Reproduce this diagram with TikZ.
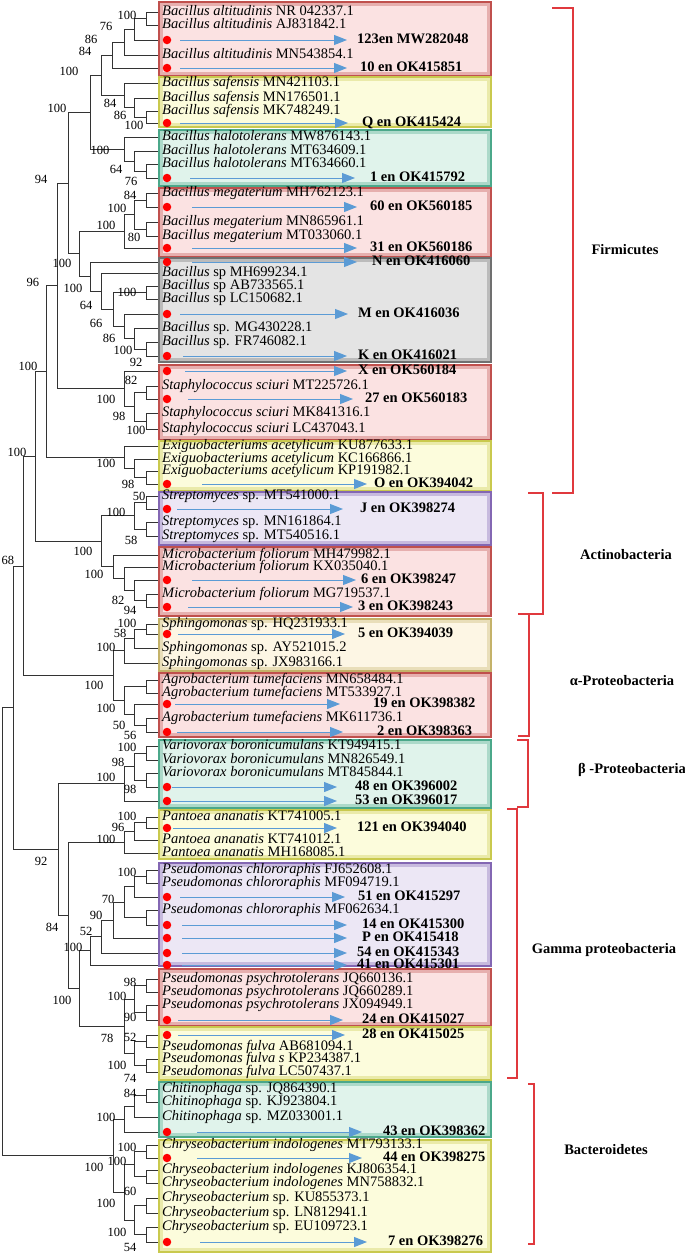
\documentclass[tikz,border=0pt]{standalone}
\usepackage{fontspec}
\setmainfont{Liberation Serif}
\usetikzlibrary{arrows.meta}

\definecolor{pinkfill}{HTML}{FBE2E2}
\definecolor{pinkline}{HTML}{C0504D}
\definecolor{yellowfill}{HTML}{FCFCDC}
\definecolor{yellowline}{HTML}{C9C94E}
\definecolor{greenfill}{HTML}{E0F3EB}
\definecolor{greenline}{HTML}{4BA88A}
\definecolor{greyfill}{HTML}{E4E4E4}
\definecolor{greyline}{HTML}{707070}
\definecolor{lilacfill}{HTML}{ECE7F5}
\definecolor{lilacline}{HTML}{8367B3}
\definecolor{creamfill}{HTML}{FDF6E4}
\definecolor{creamline}{HTML}{C4B269}
\definecolor{arrowblue}{HTML}{5B9BD5}
\definecolor{bracketred}{HTML}{E0393E}

\tikzstyle{branch}=[line width=1pt, draw=black!80]
\tikzstyle{cladebox}=[line width=1.3pt]
\tikzstyle{taxon}=[anchor=west, inner xsep=4pt, inner ysep=0pt, text height=10pt, text depth=3pt, font=\fontsize{14.5pt}{15pt}\selectfont]
\tikzstyle{isodot}=[circle, fill=red, inner sep=0pt, outer sep=0pt, minimum size=8.5pt]
\tikzstyle{isolabel}=[anchor=west, inner sep=0pt, outer sep=0pt, text height=10pt, text depth=3pt, font=\bfseries\fontsize{14.5pt}{15pt}\selectfont]
\tikzstyle{seqarrow}=[draw=arrowblue, line width=1pt, -{Triangle[length=13pt,width=10pt]}]
\tikzstyle{boot}=[inner sep=0pt, font=\fontsize{12.5pt}{13pt}\selectfont]
\tikzstyle{phylum}=[draw=bracketred, line width=1.2pt]
\tikzstyle{phylumname}=[font=\bfseries\fontsize{14.5pt}{15pt}\selectfont]

\begin{document}
\begin{tikzpicture}[x=1pt, y=-1pt]
\useasboundingbox (0,0) rectangle (685,1256);

% coloured boxes behind the leaves
\foreach \bya/\byb/\bfill/\bline in {2/76/pinkfill/pinkline, 77/127/yellowfill/yellowline, 130/186/greenfill/greenline,
  188/257/pinkfill/pinkline, 258/362/greyfill/greyline, 365/440/pinkfill/pinkline, 441/491/yellowfill/yellowline,
  492/545/lilacfill/lilacline, 547/616/pinkfill/pinkline, 619/671/creamfill/creamline, 673/737/pinkfill/pinkline,
  740/808/greenfill/greenline, 810/859/yellowfill/yellowline, 863/966/lilacfill/lilacline, 969/1026/pinkfill/pinkline,
  1027/1080/yellowfill/yellowline, 1082/1137/greenfill/greenline, 1140/1252/yellowfill/yellowline}
{
  \draw[cladebox, draw=\bline, fill=\bline!35!\bfill] (159,\bya) rectangle (491,\byb);
  \fill[\bfill] (163,{\bya+4}) rectangle (487,{\byb-4});
}

% leaf tips
\foreach \tn/\ty in {1/12, 2/25, 3/40, 4/55, 5/68, 6/83, 7/98, 8/111, 9/123, 10/137, 11/151, 12/164, 13/178,
  14/193, 15/207, 16/222, 17/236, 18/248, 19/262, 20/273, 21/286, 22/299, 23/314, 24/328, 25/342, 26/356,
  27/371, 28/386, 29/399, 30/413, 31/429, 32/446, 33/459, 34/471, 35/484, 36/496, 37/509, 38/522, 39/536,
  40/555, 41/567, 42/580, 43/594, 44/607, 45/624, 46/634, 47/648, 48/663, 49/680, 50/693, 51/704, 52/718,
  53/732, 54/746, 55/760, 56/773, 57/787, 58/801, 59/817, 60/828, 61/840, 62/853, 63/870, 64/883, 65/897,
  66/910, 67/925, 68/938, 69/953, 70/965, 71/979, 72/992, 73/1005, 74/1020, 75/1035, 76/1047, 77/1059,
  78/1072, 79/1089, 80/1102, 81/1117, 82/1132, 83/1145, 84/1158, 85/1170, 86/1183, 87/1198, 88/1213,
  89/1227, 90/1242}
  \coordinate (l\tn) at (158,\ty);

% inner nodes of the tree
\foreach \nn/\nx/\ny in {alt1/146/18.5, alt2/134/29.25, alt3/124/42.1, alt4/112/55.1,
  saf1/146/117, saf2/134/107.5, saf3/124/95.25, bac1/101/75.2,
  hal1/146/171, hal2/134/161, hal3/124/149, bac2/90/112.1,
  meg1/146/200, meg2/146/229, meg3/134/214.5, meg4/124/231.25,
  sp1/146/349, sp2/134/338.5, sp3/124/326.25, sp4/146/292.5, sp5/113/309.4, sp6/101/291.2, sp7/90/276.6,
  bac3/79/253.9, bac4/68/183,
  sta1/146/392.5, sta2/146/421, sta3/134/406.75, sta4/124/388.9, bac5/57/285.9,
  exi1/146/477.5, exi2/134/468.25, exi3/124/457.1, fir/46/371.5,
  str1/146/502.5, str2/146/529, str3/134/515.75,
  mic1/146/600.5, mic2/134/590.25, mic3/124/578.6, mic4/113/566.8,
  act/101/541.3, n1/35/456.4,
  sph1/146/629, sph2/134/638.5, sph3/124/650.75,
  agr1/146/686.5, agr2/146/725, agr3/134/714.5, agr4/124/700.5,
  alp/113/675.6, n2/23/566,
  var1/146/753, var2/146/780, var3/134/766.5, var4/124/783.75,
  pan1/146/822.5, pan2/134/831.25, pan3/124/842.1,
  chl1/146/876.5, chl2/134/886.75, chl3/146/917.5, chl4/124/902.1, chl5/113/920, chl6/101/936.5, chl7/90/950.75,
  psy1/146/985.5, psy2/146/1012.5, psy3/134/999,
  ful1/146/1041, ful2/146/1065.5, ful3/134/1053.25,
  psd1/124/1026.1, psd2/79/988.4, gam/68/915.25, n3/58/849.5, n4/13/707.75,
  chi1/146/1095.5, chi2/134/1106.25, chi3/124/1119.1,
  chr1/146/1151.5, chr2/146/1176.5, chr3/134/1164, chr4/146/1205.5, chr5/146/1234.5, chr6/134/1220, chr7/124/1192,
  bct/113/1155.5, root/2/931.6}
  \coordinate (\nn) at (\nx,\ny);

% branches
\foreach \pn/\cn in {alt1/l1, alt1/l2, alt2/alt1, alt2/l3, alt3/alt2, alt3/l4, alt4/alt3, alt4/l5,
  saf1/l8, saf1/l9, saf2/l7, saf2/saf1, saf3/l6, saf3/saf2, bac1/alt4, bac1/saf3,
  hal1/l12, hal1/l13, hal2/l11, hal2/hal1, hal3/l10, hal3/hal2, bac2/bac1, bac2/hal3,
  meg1/l14, meg1/l15, meg2/l16, meg2/l17, meg3/meg1, meg3/meg2, meg4/meg3, meg4/l18,
  sp1/l25, sp1/l26, sp2/l24, sp2/sp1, sp3/l23, sp3/sp2, sp4/l21, sp4/l22, sp5/sp4, sp5/sp3,
  sp6/l20, sp6/sp5, sp7/l19, sp7/sp6, bac3/meg4, bac3/sp7, bac4/bac2, bac4/bac3,
  sta1/l28, sta1/l29, sta2/l30, sta2/l31, sta3/sta1, sta3/sta2, sta4/l27, sta4/sta3, bac5/bac4, bac5/sta4,
  exi1/l34, exi1/l35, exi2/l33, exi2/exi1, exi3/l32, exi3/exi2, fir/bac5, fir/exi3,
  str1/l36, str1/l37, str2/l38, str2/l39, str3/str1, str3/str2,
  mic1/l43, mic1/l44, mic2/l42, mic2/mic1, mic3/l41, mic3/mic2, mic4/l40, mic4/mic3,
  act/str3, act/mic4, n1/fir, n1/act,
  sph1/l45, sph1/l46, sph2/sph1, sph2/l47, sph3/sph2, sph3/l48,
  agr1/l49, agr1/l50, agr2/l52, agr2/l53, agr3/l51, agr3/agr2, agr4/agr1, agr4/agr3,
  alp/sph3, alp/agr4, n2/n1, n2/alp,
  var1/l54, var1/l55, var2/l56, var2/l57, var3/var1, var3/var2, var4/var3, var4/l58,
  pan1/l59, pan1/l60, pan2/pan1, pan2/l61, pan3/pan2, pan3/l62,
  chl1/l63, chl1/l64, chl2/chl1, chl2/l65, chl3/l66, chl3/l67, chl4/chl2, chl4/chl3,
  chl5/chl4, chl5/l68, chl6/chl5, chl6/l69, chl7/chl6, chl7/l70,
  psy1/l71, psy1/l72, psy2/l73, psy2/l74, psy3/psy1, psy3/psy2,
  ful1/l75, ful1/l76, ful2/l77, ful2/l78, ful3/ful1, ful3/ful2,
  psd1/psy3, psd1/ful3, psd2/chl7, psd2/psd1, gam/pan3, gam/psd2, n3/var4, n3/gam, n4/n2, n4/n3,
  chi1/l79, chi1/l80, chi2/chi1, chi2/l81, chi3/chi2, chi3/l82,
  chr1/l83, chr1/l84, chr2/l85, chr2/l86, chr3/chr1, chr3/chr2, chr4/l87, chr4/l88,
  chr5/l89, chr5/l90, chr6/chr4, chr6/chr5, chr7/chr3, chr7/chr6,
  bct/chi3, bct/chr7, root/n4, root/bct}
  \draw[branch] (\pn) |- (\cn);

% reference sequences
\foreach \tn/\tg/\ta in {1/Bacillus altitudinis/NR 042337.1, 2/Bacillus altitudinis/AJ831842.1,
  4/Bacillus altitudinis/MN543854.1, 6/Bacillus safensis/MN421103.1, 7/Bacillus safensis/MN176501.1,
  8/Bacillus safensis/MK748249.1, 10/Bacillus halotolerans/MW876143.1, 11/Bacillus halotolerans/MT634609.1,
  12/Bacillus halotolerans/MT634660.1, 14/Bacillus megaterium/MH762123.1, 16/Bacillus megaterium/MN865961.1,
  17/Bacillus megaterium/MT033060.1, 20/Bacillus/sp MH699234.1, 21/Bacillus/sp AB733565.1,
  22/Bacillus/sp LC150682.1, 24/Bacillus/sp. MG430228.1, 25/Bacillus/sp. FR746082.1,
  28/Staphylococcus sciuri/MT225726.1, 30/Staphylococcus sciuri/MK841316.1, 31/Staphylococcus sciuri/LC437043.1,
  32/Exiguobacteriums acetylicum/KU877633.1, 33/Exiguobacteriums acetylicum/KC166866.1,
  34/Exiguobacteriums acetylicum/KP191982.1, 36/Streptomyces/sp. MT541000.1, 38/Streptomyces/sp. MN161864.1,
  39/Streptomyces/sp. MT540516.1, 40/Microbacterium foliorum/MH479982.1, 41/Microbacterium foliorum/KX035040.1,
  43/Microbacterium foliorum/MG719537.1, 45/Sphingomonas/sp. HQ231933.1, 47/Sphingomonas/sp. AY521015.2,
  48/Sphingomonas/sp. JX983166.1, 49/Agrobacterium tumefaciens/MN658484.1, 50/Agrobacterium tumefaciens/MT533927.1,
  52/Agrobacterium tumefaciens/MK611736.1, 54/Variovorax boronicumulans/KT949415.1,
  55/Variovorax boronicumulans/MN826549.1, 56/Variovorax boronicumulans/MT845844.1,
  59/Pantoea ananatis/KT741005.1, 61/Pantoea ananatis/KT741012.1, 62/Pantoea ananatis/MH168085.1,
  63/Pseudomonas chlororaphis/FJ652608.1, 64/Pseudomonas chlororaphis/MF094719.1,
  66/Pseudomonas chlororaphis/MF062634.1, 71/Pseudomonas psychrotolerans/JQ660136.1,
  72/Pseudomonas psychrotolerans/JQ660289.1, 73/Pseudomonas psychrotolerans/JX094949.1,
  76/Pseudomonas fulva/AB681094.1, 77/Pseudomonas fulva s/KP234387.1, 78/Pseudomonas fulva/LC507437.1,
  79/Chitinophaga/sp. JQ864390.1, 80/Chitinophaga/sp. KJ923804.1, 81/Chitinophaga/sp. MZ033001.1,
  83/Chryseobacterium indologenes/MT793133.1, 85/Chryseobacterium indologenes/KJ806354.1,
  86/Chryseobacterium indologenes/MN758832.1, 87/Chryseobacterium/sp. KU855373.1,
  88/Chryseobacterium/sp. LN812941.1, 89/Chryseobacterium/sp. EU109723.1}
  \node[taxon] (t\tn) at (l\tn) {\textit{\tg} \ta};

% isolates: dot, arrow and accession
\foreach \iN/\iX/\iS/\iE/\iL in {3/357/9/10/123en MW282048, 5/360/9/13/10 en OK415851, 9/362/9/14/Q en OK415424,
  13/370/19/15/1 en OK415792, 15/370/21/13/60 en OK560185, 18/370/21/13/31 en OK560186,
  19/372/21/15/N en OK416060, 23/358/9/10/M en OK416036, 26/358/12/11/K en OK416021,
  27/358/14/11/X en OK560184, 29/365/17/12/27 en OK560183, 35/374/31/7/O en OK394042,
  37/360/6/17/J en OK398274, 42/361/21/5/6 en OK398247, 44/358/17/5/3 en OK398243,
  46/358/7/13/5 en OK394039, 51/373/4/33/19 en OK398382, 53/377/6/34/2 en OK398363,
  57/355/1/18/48 en OK396002, 58/355/1/18/53 en OK396017, 60/357/2/20/121 en OK394040,
  65/358/9/13/51 en OK415297, 67/362/11/15/14 en OK415300, 68/362/11/15/P en OK415418,
  69/357/11/10/54 en OK415343, 70/357/11/10/41 en OK415301, 74/362/7/19/24 en OK415027,
  75/362/7/17/28 en OK415025, 82/383/26/21/43 en OK398362, 84/383/26/21/44 en OK398275,
  90/388/29/21/7 en OK398276}
{
  \node[isodot] (d\iN) at ([xshift=9pt]l\iN) {};
  \node[isolabel] (i\iN) at (\iX,0 |- l\iN) {\iL};
  \draw[seqarrow, shorten <=\iS pt, shorten >=\iE pt] (d\iN) -- (i\iN);
}

% bootstrap values
\foreach \bx/\by/\bv [count=\bk] in {127/15/100, 106/26/76, 91/39/86, 85/51/84, 69/71/100, 57/108/100,
  110/103/84, 120/115/86, 134/125/100, 100/150/100, 116/169/64, 131/181/76, 41/179/94,
  130/195/84, 117/208/100, 106/225/100, 134/237/80, 62/263/100, 33/282/96, 73/288/100, 86/305/64,
  127/292/100, 96/323/66, 109/338/86, 123/350/100, 136/362/92, 28/366/100, 131/380/82, 106/399/100,
  119/416/98, 136/430/100, 17/452/100, 106/463/100, 128/484/98, 139/496/50, 116/512/100, 131/540/58,
  8/560/68, 83/551/100, 94/574/100, 118/600/82, 130/610/94,
  127/623/100, 120/633/58, 106/647/100, 94/685/100, 106/708/100, 119/725/50, 130/735/56,
  127/747/100, 118/762/98, 106/777/100, 130/789/98,
  127/816/100, 118/827/96, 106/839/100, 41/861/92,
  127/872/100, 108/899/70, 96/915/90, 86/931/52, 52/927/84, 73/947/100, 62/1000/100,
  130/982/98, 117/996/100, 130/1017/90, 107/1038/78, 130/1037/52, 117/1065/100, 130/1078/74,
  130/1093/84, 106/1117/100, 127/1147/100, 117/1161/100, 94/1167/100, 130/1191/60, 106/1203/100,
  117/1232/100, 130/1247/54}
  \node[boot] (bs\bk) at (\bx,\by) {\bv};

% phyla
\draw[phylum] (552,8) -- (573,8) -- (573,493) -- (552,493);
\draw[phylum] (528,493) -- (543,493) -- (543,614) -- (518,614);
\draw[phylum] (518,614) -- (529,614) -- (529,736) -- (518,736);
\draw[phylum] (517,740) -- (528,740) -- (528,807) -- (517,807);
\draw[phylum] (507,809) -- (517,809) -- (517,1078) -- (507,1078);
\draw[phylum] (528,1084) -- (534,1084) -- (534,1244) -- (528,1244);
\node[phylumname] (firmicutes) at (625,250) {Firmicutes};
\node[phylumname] (actino) at (626,555) {Actinobacteria};
\node[phylumname] (alpha) at (622,681) {α-Proteobacteria};
\node[phylumname] (beta) at (632,770) {β -Proteobacteria};
\node[phylumname] (gamma) at (604,950) {Gamma proteobacteria};
\node[phylumname] (bactero) at (606,1150) {Bacteroidetes};
\end{tikzpicture}
\end{document}
